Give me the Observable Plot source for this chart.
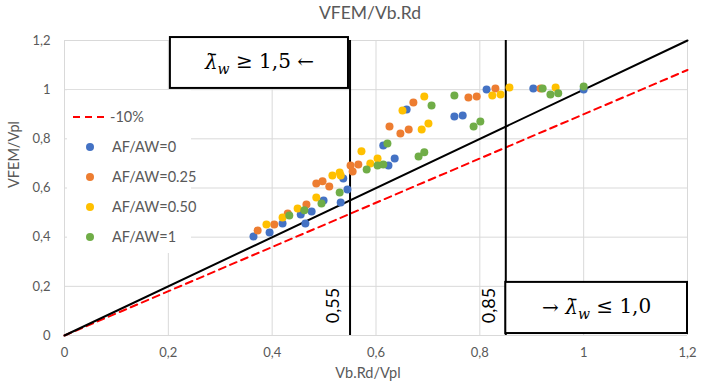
<!DOCTYPE html>
<html>
<head>
<meta charset="utf-8">
<script src="https://cdn.jsdelivr.net/npm/d3@7"></script>
<script src="https://cdn.jsdelivr.net/npm/@observablehq/plot@0.6"></script>
<style>
  html, body { margin: 0; padding: 0; background: #fff; }
  #chart { width: 709px; height: 387px; }
</style>
</head>
<body>
<div id="chart"></div>
<script>
// ---- data ----
const title = "VFEM/Vb.Rd";
const xLabel = "Vb.Rd/Vpl";
const yLabel = "VFEM/Vpl";
const xTicks = [0, 0.2, 0.4, 0.6, 0.8, 1, 1.2];
const yTicks = [0, 0.2, 0.4, 0.6, 0.8, 1, 1.2];

// reference lines
const refX = [0, 1.2];
const identityY = [0, 1.2];
const minus10Y = [0, 1.08];

// slenderness limits
const limitX = [0.55, 0.85];

// series: [Vb.Rd/Vpl, VFEM/Vpl]
const af0 = [[0.364,0.403],[0.395,0.419],[0.420,0.456],[0.455,0.492],[0.464,0.456],[0.476,0.504],[0.499,0.549],[0.532,0.541],[0.545,0.594],[0.537,0.639],[0.614,0.773],[0.624,0.692],[0.636,0.720],[0.659,0.919],[0.751,0.891],[0.767,0.895],[0.813,1.001],[0.903,1.005],[1.000,1.001]];
const af025 = [[0.372,0.427],[0.404,0.452],[0.430,0.496],[0.466,0.533],[0.485,0.618],[0.497,0.627],[0.510,0.606],[0.551,0.692],[0.555,0.667],[0.566,0.696],[0.626,0.850],[0.647,0.822],[0.663,0.838],[0.672,0.948],[0.778,0.968],[0.794,0.972],[0.830,1.005],[0.917,1.005]];
const af050 = [[0.389,0.452],[0.420,0.480],[0.449,0.517],[0.485,0.561],[0.516,0.651],[0.530,0.663],[0.532,0.651],[0.572,0.749],[0.589,0.700],[0.603,0.720],[0.651,0.915],[0.688,0.838],[0.701,0.862],[0.693,0.972],[0.824,0.976],[0.840,0.980],[0.857,1.009],[0.946,1.009]];
const af1 = [[0.433,0.488],[0.462,0.509],[0.495,0.537],[0.530,0.582],[0.582,0.675],[0.603,0.692],[0.614,0.696],[0.622,0.781],[0.682,0.728],[0.693,0.745],[0.707,0.936],[0.751,0.976],[0.788,0.850],[0.801,0.871],[0.921,1.005],[0.936,0.980],[0.951,0.985],[1.000,1.013]];

const seriesNames = ["AF/AW=0", "AF/AW=0.25", "AF/AW=0.50", "AF/AW=1"];
const seriesColors = ["#4472C4", "#ED7D31", "#FFC000", "#70AD47"];
const seriesData = [af0, af025, af050, af1];
const minus10Name = "-10%";

// annotation boxes
const boxX1 = [0.204, 0.85];
const boxX2 = [0.547, 1.2];
const boxY1 = [1.005, 0.008];
const boxY2 = [1.212, 0.216];
const boxPre = ["", "→ "];
const boxPost = [" ≥ 1,5 ←", " ≤ 1,0"];

// ---- build tables ----
const fmt = d => d3.format(".2~f")(d).replace(".", ",");
const points = seriesData.flatMap((arr, i) => arr.map(([x, y]) => ({x, y, s: seriesNames[i]})));
const identity = refX.map((x, i) => ({x, y: identityY[i]}));
const minus10 = refX.map((x, i) => ({x, y: minus10Y[i]}));
const boxes = boxPre.map((p, i) => ({x1: boxX1[i], x2: boxX2[i], y1: boxY1[i], y2: boxY2[i],
  t: p + "λw" + boxPost[i], pre: p, post: boxPost[i],
  cx: (boxX1[i] + boxX2[i]) / 2, cy: (boxY1[i] + boxY2[i]) / 2}));

const grey = "#595959";
const font = "Lato, 'Open Sans', sans-serif";
const serif = "'DejaVu Serif', 'Liberation Serif', serif";

const plot = Plot.plot({
  width: 709,
  height: 387,
  marginLeft: 64,
  marginRight: 22,
  marginTop: 40,
  marginBottom: 52,
  style: {fontFamily: font, background: "white", overflow: "visible"},
  x: {domain: [0, 1.2]},
  y: {domain: [0, 1.2]},
  color: {domain: seriesNames, range: seriesColors},
  marks: [
    Plot.gridX(xTicks, {stroke: "#d9d9d9", strokeOpacity: 1, strokeWidth: 1}),
    Plot.gridY(yTicks, {stroke: "#d9d9d9", strokeOpacity: 1, strokeWidth: 1}),
    Plot.axisX(xTicks, {tickSize: 0, tickPadding: 12, tickFormat: fmt, color: grey, fontSize: 13, label: null}),
    Plot.axisY(yTicks, {tickSize: 0, tickPadding: 14, tickFormat: fmt, color: grey, fontSize: 13, label: null}),
    Plot.text([title], {frameAnchor: "top", lineAnchor: "middle", dy: -27, dx: -6, fill: grey, fontSize: 17.5}),
    Plot.text([xLabel], {frameAnchor: "bottom", lineAnchor: "middle", dy: 38, dx: -8, fill: grey, fontSize: 14.5}),
    Plot.text([yLabel], {frameAnchor: "left", lineAnchor: "middle", dx: -50, rotate: -90, fill: grey, fontSize: 14.5}),
    Plot.line(minus10, {x: "x", y: "y", stroke: "#ff0000", strokeWidth: 2, strokeDasharray: "7,5"}),
    Plot.line(identity, {x: "x", y: "y", stroke: "black", strokeWidth: 2}),
    Plot.ruleX(limitX, {y1: 0, y2: 1.2, stroke: "black", strokeWidth: 2}),
    Plot.text(limitX, {x: d => d, y: 0.122, text: fmt, rotate: -90, dx: -17, fill: "black", fontSize: 18}),
    Plot.rect(boxes, {x1: "x1", x2: "x2", y1: "y1", y2: "y2", fill: "white", stroke: "black", strokeWidth: 2}),
    Plot.text(boxes, {x: "cx", y: "cy", text: "t", fill: "black", fontSize: 20, fontFamily: serif})
  ]
});

document.getElementById("chart").appendChild(plot);
const svg = d3.select(plot);

// math formatting for the box labels: italic λ with macron, subscript w
svg.selectAll("text").filter(function() { return this.textContent.includes("λw"); }).each(function(_, k) {
  const b = boxes[k];
  const el = d3.select(this);
  el.text(null);
  if (b.pre) el.append("tspan").text(b.pre);
  el.append("tspan").attr("font-style", "italic").text("λ\u0304");
  el.append("tspan").attr("font-style", "italic").attr("font-size", "14px").attr("dy", "0.3em").text("w");
  el.append("tspan").attr("dy", "-0.3em").text(b.post);
});

// dots layer, drawn above the annotations
const dotsSvg = Plot.plot({
  width: 709, height: 387, marginLeft: 64, marginRight: 22, marginTop: 40, marginBottom: 52,
  x: {domain: [0, 1.2], axis: null}, y: {domain: [0, 1.2], axis: null},
  color: {domain: seriesNames, range: seriesColors},
  marks: [Plot.dot(points, {x: "x", y: "y", fill: "s", r: 4})]
});
d3.select(dotsSvg).selectAll(":scope > g").each(function() { plot.appendChild(this); });

// legend (white panel inside the plot area)
const lg = svg.append("g").attr("font-family", font).attr("font-size", 14.5).attr("fill", grey).attr("text-anchor", "start");
lg.append("rect").attr("x", 67).attr("y", 90).attr("width", 124).attr("height", 163).attr("fill", "white");
lg.append("line").attr("x1", 73).attr("x2", 108).attr("y1", 117).attr("y2", 117)
  .attr("stroke", "#ff0000").attr("stroke-width", 2).attr("stroke-dasharray", "7,5");
lg.append("text").attr("x", 110).attr("y", 117).attr("dy", "0.35em").text(minus10Name);
seriesNames.forEach((name, i) => {
  const y = 147 + i * 30;
  lg.append("circle").attr("cx", 90).attr("cy", y).attr("r", 4).attr("fill", seriesColors[i]);
  lg.append("text").attr("x", 112).attr("y", y).attr("dy", "0.35em").text(name);
});
</script>
</body>
</html>
